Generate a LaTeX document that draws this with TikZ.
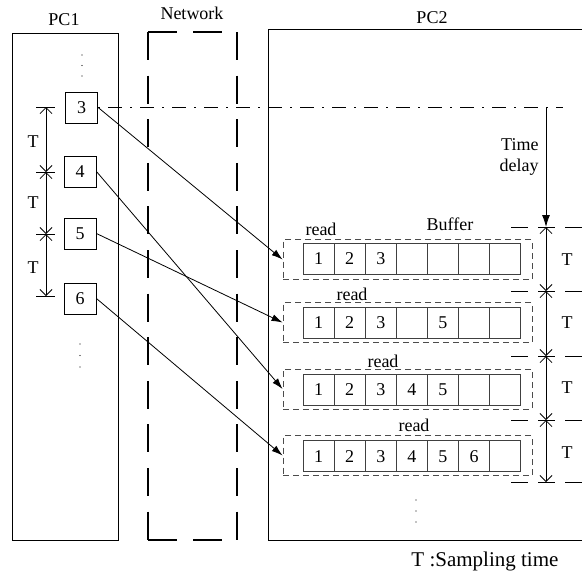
\documentclass[tikz,border=0pt]{standalone}
\usepackage{fontspec}
\setmainfont{Liberation Serif}
\usetikzlibrary{arrows.meta}
\newcommand\mybufrow[9]{%
  \node[cell] (c#1a) at (318.55,#2) {#3};
  \node[cell] (c#1b) at (349.65,#2) {#4};
  \node[cell] (c#1c) at (380.75,#2) {#5};
  \node[cell] (c#1d) at (411.85,#2) {#6};
  \node[cell] (c#1e) at (442.95,#2) {#7};
  \node[cell] (c#1f) at (474.05,#2) {#8};
  \node[cell] (c#1g) at (505.15,#2) {#9};}
\begin{document}
\begin{tikzpicture}[x=1pt,y=-1pt,line width=0.9pt,
  lbl/.style={inner sep=0pt,font=\fontsize{18}{20}\selectfont},
  pcbox/.style={draw,minimum width=32pt,minimum height=31pt,inner sep=0pt,font=\fontsize{18}{20}\selectfont},
  cell/.style={draw=black!75,text=black,minimum width=31.1pt,minimum height=31pt,inner sep=0pt,font=\fontsize{18}{20}\selectfont},
  bufbox/.style={draw=black!70,dash pattern=on 6pt off 4pt,minimum width=249pt,minimum height=40pt,inner sep=0pt},
  msg/.style={-{Latex[length=11pt,width=7pt]},line width=0.8pt},
  dimline/.style={{Straight Barb[length=6pt,width=12pt]}-{Straight Barb[length=6pt,width=12pt]},line width=0.8pt},
  netline/.style={line width=1.5pt},
  tick/.style={line width=0.9pt,dash pattern=on 17pt off 10pt},
  dotmark/.style={fill=black}
  ]
\useasboundingbox (0,0) rectangle (582,574);

% titles
\node[lbl,anchor=base] (tpc1) at (64,25) {PC1};
\node[lbl,anchor=base] (tnet) at (192,19.3) {Network};
\node[lbl,anchor=base] (tpc2) at (432,23.3) {PC2};

% PC1 box
\draw (12,33) rectangle (118,540);
% Network box (dashed)
\draw[netline,dash pattern=on 28pt off 15.6pt] (148,32) -- (148,540);
\draw[netline,dash pattern=on 28pt off 15.6pt] (237,32) -- (237,540);
\draw[netline,dash pattern=on 29pt off 16pt] (148,32) -- (237,32);
\draw[netline,dash pattern=on 29pt off 16pt] (148,540) -- (237,540);
% PC2 box (open to the right)
\draw (582,29.5) -- (268,29.5) -- (268,540) -- (582,540);

% PC1 packets
\node[pcbox] (b3) at (81.7,107.5) {3};
\node[pcbox] (b4) at (80,171.5) {4};
\node[pcbox] (b5) at (80,233.5) {5};
\node[pcbox] (b6) at (80,298.5) {6};

% dots
\foreach \p in {(82,55),(82,65.5),(82,76),(80,344),(80,355.5),(80,367),(416,500),(416,511),(416,522)}
  \fill \p circle (0.6pt);

% left sampling dimension
\coordinate (L1) at (46,107);
\coordinate (L2) at (46,172);
\coordinate (L3) at (46,234);
\coordinate (L4) at (46,296);
\draw[dimline] (L1) -- (L2);
\draw[dimline] (L2) -- (L3);
\draw[dimline] (L3) -- (L4);
\foreach \c in {L1,L2,L3,L4}
  \draw ([xshift=-10pt]\c) -- ([xshift=9pt]\c);
\node[lbl] (tl1) at (33,142) {T};
\node[lbl] (tl2) at (33,203) {T};
\node[lbl] (tl3) at (33,268) {T};

% buffers
\node[bufbox] (buf1) at (407.5,259.5) {};
\node[bufbox] (buf2) at (407.5,322.5) {};
\node[bufbox] (buf3) at (407.5,389) {};
\node[bufbox] (buf4) at (407.5,455.5) {};
\mybufrow{1}{258.5}{1}{2}{3}{}{}{}{}
\mybufrow{2}{322.8}{1}{2}{3}{}{5}{}{}
\mybufrow{3}{389.5}{1}{2}{3}{4}{5}{}{}
\mybufrow{4}{456.2}{1}{2}{3}{4}{5}{6}{}
\node[lbl,anchor=base] (rd1) at (321,235.5) {read};
\node[lbl,anchor=base] (rd2) at (352,300.5) {read};
\node[lbl,anchor=base] (rd3) at (383,367) {read};
\node[lbl,anchor=base] (rd4) at (414,431.5) {read};
\node[lbl,anchor=base] (tbuf) at (450,230) {Buffer};

% messages
\draw[msg] (b3.east) -- (buf1.west);
\draw[msg] (b4.east) -- (buf3.west);
\draw[msg] (b5.east) -- (buf2.west);
\draw[msg] (b6.east) -- (buf4.west);

% reference dash-dot line and time delay
\coordinate (dd) at (563,107.5);
\draw[line width=0.9pt,dash pattern=on 2pt off 8pt on 14pt off 8pt] (b3.east) -- (b3.east -| dd);
\coordinate (R0) at (546,107.5);
\coordinate (R1) at (546,227);
\coordinate (R2) at (546,291);
\coordinate (R3) at (546,356);
\coordinate (R4) at (546,420);
\coordinate (R5) at (546,482);
\draw[-{Latex[length=12pt,width=8pt]},line width=0.9pt] (R0) -- (R1);
\node[lbl,anchor=base east] (ttime) at (539,150.7) {Time};
\node[lbl,anchor=base east] (tdelay) at (539,171.5) {delay};
\draw[dimline] (R1) -- (R2);
\draw[dimline] (R2) -- (R3);
\draw[dimline] (R3) -- (R4);
\draw[dimline] (R4) -- (R5);
\foreach \c in {R1,R2,R3,R4,R5}
  \draw[tick] ([xshift=-35pt]\c) -- ([xshift=36pt]\c);
\node[lbl] (tr1) at (567,260) {T};
\node[lbl] (tr2) at (567,323) {T};
\node[lbl] (tr3) at (567,388) {T};
\node[lbl] (tr4) at (567,453) {T};

% legend
\node[inner sep=0pt,anchor=base west,font=\fontsize{21}{24}\selectfont] (legend) at (411,566.7) {T :Sampling time};
\end{tikzpicture}
\end{document}
